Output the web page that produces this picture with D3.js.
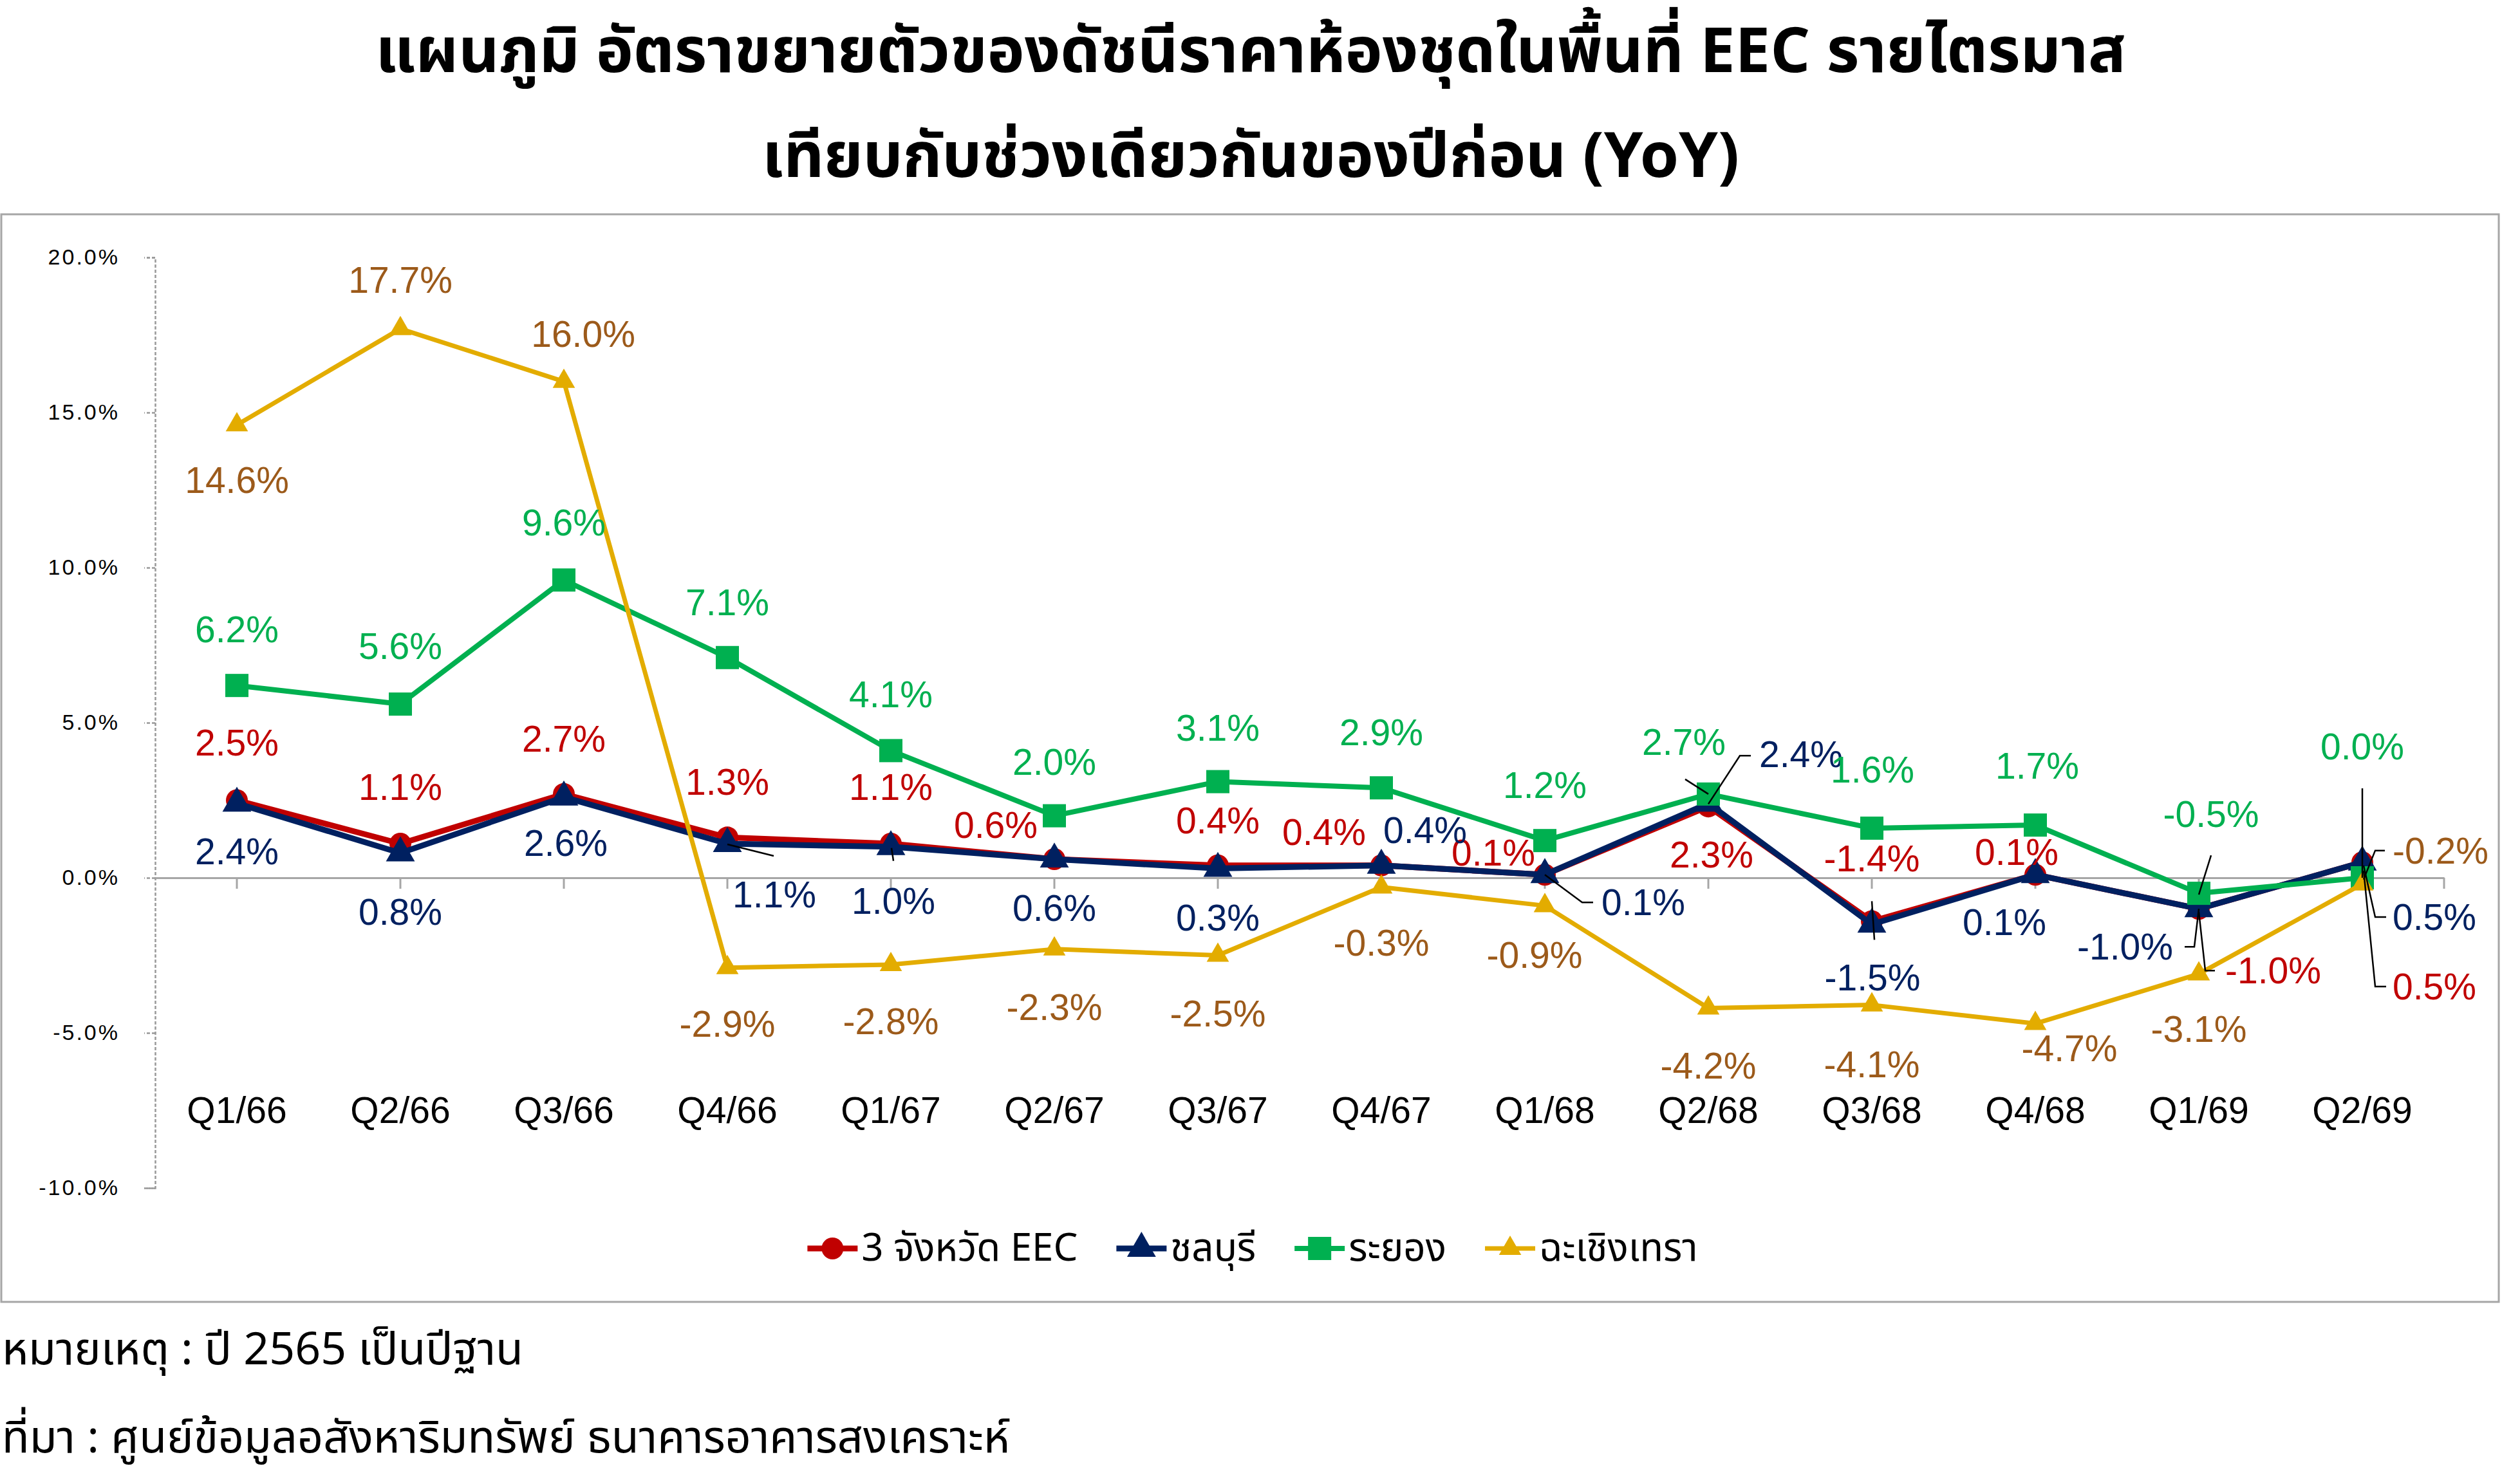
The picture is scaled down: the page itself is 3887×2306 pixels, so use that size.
<!DOCTYPE html>
<html><head><meta charset="utf-8">
<script src="https://cdn.jsdelivr.net/npm/d3@7/dist/d3.min.js"></script>
<style>
html,body{margin:0;padding:0;background:#fff;}
svg{display:block;}
</style></head>
<body>
<svg id="chart" width="3887" height="2306"></svg>
<script>
// ---------- DATA ----------
const categories = ["Q1/66","Q2/66","Q3/66","Q4/66","Q1/67","Q2/67","Q3/67","Q4/67","Q1/68","Q2/68","Q3/68","Q4/68","Q1/69","Q2/69"];
const eec          = [2.5, 1.1, 2.7, 1.3, 1.1, 0.6, 0.4, 0.4, 0.1, 2.3, -1.4, 0.1, -1.0, 0.5];
const chonburi     = [2.4, 0.8, 2.6, 1.1, 1.0, 0.6, 0.3, 0.4, 0.1, 2.4, -1.5, 0.1, -1.0, 0.5];
const rayong       = [6.2, 5.6, 9.6, 7.1, 4.1, 2.0, 3.1, 2.9, 1.2, 2.7, 1.6, 1.7, -0.5, 0.0];
const chachoengsao = [14.6, 17.7, 16.0, -2.9, -2.8, -2.3, -2.5, -0.3, -0.9, -4.2, -4.1, -4.7, -3.1, -0.2];
const seriesNames  = ["3 จังหวัด EEC", "ชลบุรี", "ระยอง", "ฉะเชิงเทรา"];
const yTicks       = [-10, -5, 0, 5, 10, 15, 20];
const titleLines   = ["แผนภูมิ อัตราขยายตัวของดัชนีราคาห้องชุดในพื้นที่ EEC รายไตรมาส", "เทียบกับช่วงเดียวกันของปีก่อน (YoY)"];
const notes        = ["หมายเหตุ : ปี 2565 เป็นปีฐาน", "ที่มา : ศูนย์ข้อมูลอสังหาริมทรัพย์ ธนาคารอาคารสงเคราะห์"];

// ---------- STYLE / LAYOUT ----------
const thaiFont = "'Noto Sans Thai','Noto Sans Thai Looped','Loma','Garuda','Tlwg Typo','Liberation Sans','DejaVu Sans',sans-serif";
const numFont = "'Liberation Sans',Arial,'DejaVu Sans',sans-serif";
const styles = [
  {line:"#C00000", label:"#C00000", width:9, marker:"circle", size:17},
  {line:"#002060", label:"#002060", width:9, marker:"triangle", size:22},
  {line:"#00B050", label:"#00B050", width:8, marker:"square", size:18},
  {line:"#E3AC00", label:"#9C5A1A", width:7, marker:"triangle", size:17}
];
const pct = v => v.toFixed(1) + "%";
// label offsets [dx, dy, anchor] relative to point (layout, not data)
const labelOffsets = [
  [[0,-90],[0,-88],[0,-86],[0,-86],[0,-88],[-91,-53],[0,-70],[-89,-52],[-80,-34],[5,75],[0,-97],[-29,-35],[41,96,"start"],[47,193,"start"]],
  [[0,75],[0,92],[3,71],[73,79],[4,84],[0,76],[0,76],[68,-55],[88,43,"start"],[79,-76,"start"],[1,83],[-48,74],[-40,59,"end"],[47,85,"start"]],
  [[0,-87],[0,-90],[0,-89],[0,-86],[0,-87],[0,-84],[0,-84],[0,-86],[0,-86],[-38,-81],[1,-91],[3,-92],[19,-123],[0,-204]],
  [[0,86],[0,-76],[30,-74],[0,87],[0,88],[0,90],[0,90],[0,87],[-16,77],[0,90],[0,92],[53,38],[0,86],[47,-52,"start"]]
];
// leader lines: series, index, offsets from point
const leaders = [
  {s:1,i:3,p:[[0,1],[72,19]]},
  {s:1,i:4,p:[[1,2],[4,22]]},
  {s:1,i:8,p:[[0,0],[58,43],[75,43]]},
  {s:1,i:9,p:[[0,1],[49,-74],[66,-74]]},
  {s:2,i:9,p:[[-36,-23],[0,0]]},
  {s:1,i:10,p:[[0,-36],[4,24]]},
  {s:2,i:12,p:[[19,-59],[0,2]]},
  {s:1,i:12,p:[[-22,59],[-7,59],[0,0]]},
  {s:0,i:12,p:[[0,5],[10,96],[25,96]]},
  {s:2,i:13,p:[[0,-139],[0,0]]},
  {s:3,i:13,p:[[35,-52],[20,-52],[2,-7]]},
  {s:1,i:13,p:[[37,85],[20,85],[2,5]]},
  {s:0,i:13,p:[[37,193],[20,193],[2,13]]}
];

const svg = d3.select("#chart");
const series = [eec, chonburi, rayong, chachoengsao];

// chart border
svg.append("rect").attr("x",2).attr("y",333).attr("width",3880).attr("height",1690)
  .attr("fill","none").attr("stroke","#A6A6A6").attr("stroke-width",3);

// scales
const x = d3.scaleBand().domain(categories).range([241, 3797]).paddingInner(0).paddingOuter(0);
const cx = c => x(c) + x.bandwidth()/2;
const y = d3.scaleLinear().domain([-10, 20]).range([1846, 400]);

// Y axis (dashed gray)
const yAxis = d3.axisLeft(y).tickValues(yTicks).tickFormat(pct).tickSize(17).tickPadding(38);
const gy = svg.append("g").attr("transform","translate(241,0)").call(yAxis);
gy.select(".domain").attr("stroke","#999").attr("stroke-width",2.5).attr("stroke-dasharray","5,3");
gy.selectAll(".tick line").attr("stroke","#999").attr("stroke-width",2.5).attr("stroke-dasharray","5,3");
gy.selectAll(".tick text").attr("font-family",numFont).attr("font-size",34).attr("letter-spacing","3px").attr("fill","#000");

// X axis at zero
const xAxis = d3.axisBottom(x).tickSize(0).tickFormat("");
const gx = svg.append("g").attr("transform",`translate(0,${y(0)})`).call(xAxis);
gx.select(".domain").attr("stroke","#A6A6A6").attr("stroke-width",3);
gx.selectAll(".tick").remove();
const tickXs = categories.map(cx).concat([x.range()[1]]);
gx.selectAll("line.t").data(tickXs).enter().append("line")
  .attr("x1",d=>d).attr("x2",d=>d).attr("y1",0).attr("y2",17)
  .attr("stroke","#A6A6A6").attr("stroke-width",3);

// category labels
svg.append("g").selectAll("text").data(categories).enter().append("text")
  .attr("x", d => cx(d)).attr("y", 1725).attr("text-anchor","middle").attr("dominant-baseline","central")
  .attr("font-family",numFont).attr("font-size",57).attr("fill","#000").text(d=>d);

// markers
function drawMarker(g, type, size, color) {
  if (type === "circle") g.append("circle").attr("r", size).attr("fill", color);
  else if (type === "square") g.append("rect").attr("x",-size).attr("y",-size).attr("width",2*size).attr("height",2*size).attr("fill",color);
  else g.append("path").attr("d", d3.symbol(d3.symbolTriangle, size*size*1.8)()).attr("fill", color);
}

const line = d3.line().x((d,i)=>cx(categories[i])).y(d=>y(d));
series.forEach((vals, s) => {
  const st = styles[s];
  const g = svg.append("g");
  g.append("path").datum(vals).attr("d", line).attr("fill","none")
    .attr("stroke", st.line).attr("stroke-width", st.width).attr("stroke-linejoin","round");
  vals.forEach((v,i) => {
    const m = g.append("g").attr("transform",`translate(${cx(categories[i])},${y(v)})`);
    drawMarker(m, st.marker, st.size, st.line);
  });
});

// leader lines
const lg = svg.append("g");
leaders.forEach(L => {
  const px = cx(categories[L.i]), py = y(series[L.s][L.i]);
  lg.append("path").attr("d", d3.line()(L.p.map(p => [px+p[0], py+p[1]])))
    .attr("fill","none").attr("stroke","#000").attr("stroke-width",2.5);
});

// data labels
series.forEach((vals, s) => {
  const st = styles[s];
  vals.forEach((v,i) => {
    const o = labelOffsets[s][i];
    svg.append("text")
      .attr("x", cx(categories[i]) + o[0]).attr("y", y(v) + o[1])
      .attr("text-anchor", o[2] || "middle").attr("dominant-baseline","central")
      .attr("font-family", numFont).attr("font-size", 57).attr("fill", st.label)
      .text(pct(v));
  });
});

// fit helper
function fit(t, target, maxSize) {
  let fs = +t.attr("font-size");
  const w = t.node().getComputedTextLength();
  if (w > 0) { fs = Math.min(maxSize, fs * target / w); t.attr("font-size", fs); }
  return fs;
}

// title
const t1 = svg.append("text").attr("x",1943).attr("y",112).attr("text-anchor","middle")
  .attr("font-family",thaiFont).attr("font-weight","bold").attr("font-size",90).attr("fill","#000").text(titleLines[0]);
const tfs = fit(t1, 2720, 110);
svg.append("text").attr("x",1943).attr("y",275).attr("text-anchor","middle")
  .attr("font-family",thaiFont).attr("font-weight","bold").attr("font-size",tfs).attr("fill","#000").text(titleLines[1]);

// legend
const legendG = svg.append("g");
let lx = 0;
seriesNames.forEach((name, s) => {
  const st = styles[s];
  const it = legendG.append("g").attr("transform",`translate(${lx},0)`);
  it.append("line").attr("x1",0).attr("x2",78).attr("y1",0).attr("y2",0).attr("stroke",st.line).attr("stroke-width",st.width);
  const m = it.append("g").attr("transform","translate(39,0)");
  drawMarker(m, st.marker, st.size, st.line);
  const tx = it.append("text").attr("x",84).attr("y",0).attr("dominant-baseline","central")
    .attr("font-family",thaiFont).attr("font-size",60).attr("fill","#000").text(name);
  lx += 84 + tx.node().getComputedTextLength() + 60;
});
lx -= 60;
legendG.attr("transform",`translate(${1946 - lx/2},1940)`);

// footnotes
const n1 = svg.append("text").attr("x",3).attr("y",2120).attr("font-family",thaiFont).attr("font-size",60).attr("fill","#000").text(notes[0]);
fit(n1, 810, 70);
const n2 = svg.append("text").attr("x",3).attr("y",2257).attr("font-family",thaiFont).attr("font-size",60).attr("fill","#000").text(notes[1]);
fit(n2, 1578, 70);
</script>
</body></html>
